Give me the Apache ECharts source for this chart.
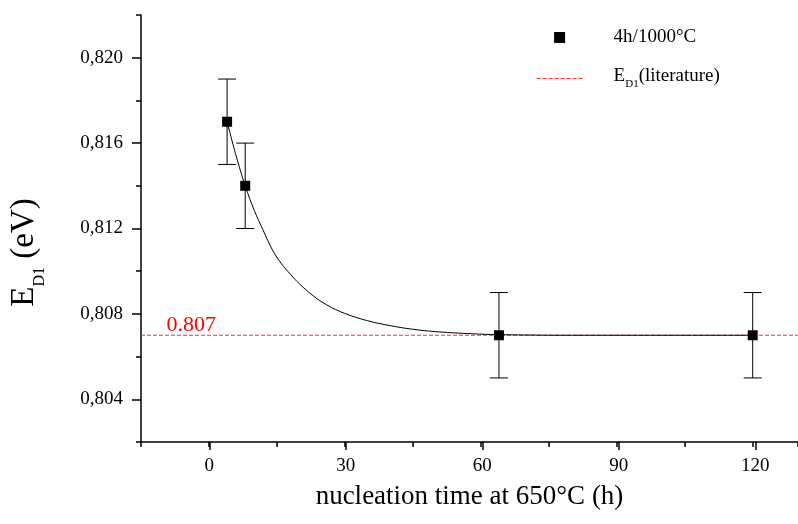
<!DOCTYPE html>
<html><head><meta charset="utf-8">
<script src="https://cdn.jsdelivr.net/npm/echarts@6/dist/echarts.min.js"></script>
<style>html,body{margin:0;padding:0;background:#fff}#c{width:798px;height:524px}</style>
</head><body><div id="c"></div>
<script>
// ---- data ----
const sampleX = [4, 8, 64, 120];
const sampleY = [0.817, 0.814, 0.807, 0.807];
const sampleErr = [0.002, 0.002, 0.002, 0.002];
const fitX = [4, 6, 8, 10, 12, 14, 16, 18, 20, 23, 26, 30, 35, 40, 45, 50, 57, 64, 80, 100, 120];
const fitY = [0.8170, 0.8154, 0.8140, 0.81285, 0.8119, 0.8110, 0.81035, 0.80985, 0.8094, 0.80885, 0.80842, 0.80802, 0.80768, 0.80745, 0.80728, 0.80717, 0.80708, 0.80703, 0.8070, 0.8070, 0.8070];
const literatureValue = 0.807;
const literatureLabel = '0.807';
const xTickValues = [0, 30, 60, 90, 120];
const xTickLabels = ['0', '30', '60', '90', '120'];
const yTickValues = [0.804, 0.808, 0.812, 0.816, 0.820];
const yTickLabels = ['0,804', '0,808', '0,812', '0,816', '0,820'];
const xRange = [-15, 130];
const yRange = [0.802, 0.822];
const seriesName = '4h/1000°C';
const litName = 'ED1(literature)';

// ---- layout ----
const FONT = "'Liberation Serif','Times New Roman',serif";
const G = { left: 141, top: 15, width: 659.75, height: 427 };
const px = v => (v - xRange[0]) / (xRange[1] - xRange[0]) * G.width;
const py = v => (yRange[1] - v) / (yRange[1] - yRange[0]) * G.height;
const xMajMin = xTickValues[0], xMajMax = xTickValues[xTickValues.length - 1];
const yMajMin = yTickValues[0], yMajMax = yTickValues[yTickValues.length - 1];
const lblX = v => { const i = xTickValues.findIndex(t => Math.abs(t - v) < 1e-9); return i < 0 ? '' : xTickLabels[i]; };
const lblY = v => { const i = yTickValues.findIndex(t => Math.abs(t - v) < 1e-9); return i < 0 ? '' : yTickLabels[i]; };

const chart = echarts.init(document.getElementById('c'), null, { renderer: 'canvas' });
const blk = '#000';
const RED = '#ff3030';
const litData = [[xRange[0], literatureValue], [xRange[1], literatureValue]];
chart.setOption({
  animation: false,
  backgroundColor: '#fff',
  grid: [
    { left: G.left, top: G.top, width: G.width, height: G.height },
    { left: G.left + px(xMajMin), top: G.top, width: px(xMajMax) - px(xMajMin), height: G.height },
    { left: G.left, top: G.top + py(yMajMax), width: G.width, height: py(yMajMin) - py(yMajMax) }
  ],
  xAxis: [
    { gridIndex: 0, type: 'value', min: xRange[0], max: xRange[1], interval: 15,
      axisLine: { onZero: false, lineStyle: { color: blk, width: 1.5 } },
      axisTick: { length: 5, lineStyle: { color: blk, width: 1.5 } },
      axisLabel: { show: false }, splitLine: { show: false },
      name: 'nucleation time at 650°C (h)', nameLocation: 'middle', nameGap: 41,
      nameTextStyle: { fontFamily: FONT, fontSize: 27, color: blk } },
    { gridIndex: 1, type: 'value', min: xMajMin, max: xMajMax, interval: 30,
      axisLine: { show: false, onZero: false },
      axisTick: { length: 8, lineStyle: { color: blk, width: 1.5 } },
      axisLabel: { margin: 15, fontFamily: FONT, fontSize: 19, color: blk, formatter: lblX },
      splitLine: { show: false } },
    { gridIndex: 2, type: 'value', show: false, min: xRange[0], max: xRange[1], axisLine: { onZero: false } }
  ],
  yAxis: [
    { gridIndex: 0, type: 'value', min: yRange[0], max: yRange[1], interval: 0.002,
      axisLine: { show: true, onZero: false, lineStyle: { color: blk, width: 1.5 } },
      axisTick: { show: true, length: 5, lineStyle: { color: blk, width: 1.5 } },
      axisLabel: { show: false }, splitLine: { show: false },
      name: '{e|E}{s|D1}{e| (eV)}', nameLocation: 'middle', nameGap: 93,
      nameTextStyle: { fontFamily: FONT, fontSize: 33, color: blk, padding: [0, 48, 0, 0],
        rich: { e: { fontFamily: FONT, fontSize: 33, color: blk, verticalAlign: 'bottom', padding: [0, 0, 7, 0] },
                s: { fontFamily: FONT, fontSize: 16, color: blk, verticalAlign: 'bottom' } } } },
    { gridIndex: 1, type: 'value', show: false, min: yRange[0], max: yRange[1], axisLine: { onZero: false } },
    { gridIndex: 2, type: 'value', min: yMajMin, max: yMajMax, interval: 0.004,
      axisLine: { show: false, onZero: false },
      axisTick: { show: true, length: 9, lineStyle: { color: blk, width: 1.5 } },
      axisLabel: { margin: 18, fontFamily: FONT, fontSize: 19, color: blk, formatter: lblY },
      splitLine: { show: false } }
  ],
  legend: {
    orient: 'vertical', left: 536, top: 28, padding: 0, itemWidth: 46, itemHeight: 11, itemGap: 20,
    selectedMode: false,
    data: [
      { name: seriesName, icon: 'path://M0,0L10,0L10,10L0,10Z' },
      { name: litName, itemStyle: { color: 'rgba(0,0,0,0)', borderWidth: 0, opacity: 0 },
        lineStyle: { color: RED, width: 1.2, type: [4, 2], opacity: 1 } }
    ],
    formatter: n => n === litName ? '{e|E}{s|D1}{e|(literature)}' : n,
    textStyle: { fontFamily: FONT, fontSize: 19, color: blk, padding: [0, 0, 0, 26],
      rich: { e: { fontFamily: FONT, fontSize: 19, color: blk, verticalAlign: 'bottom', padding: [0, 0, 4, 0] },
              s: { fontFamily: FONT, fontSize: 11, color: blk, verticalAlign: 'bottom' } } }
  },
  series: [
    { name: litName, type: 'line', xAxisIndex: 0, yAxisIndex: 0, data: litData,
      color: RED, symbol: 'none', silent: true, z: 2,
      lineStyle: { color: RED, width: 1.2, type: [4, 2] },
      markPoint: { silent: true, symbol: 'circle', symbolSize: 1, animation: false,
        itemStyle: { color: 'rgba(0,0,0,0)' },
        data: [{ coord: litData[0], value: literatureValue }],
        label: { show: true, formatter: literatureLabel, position: 'right', offset: [20, -10],
          fontFamily: FONT, fontSize: 22, color: '#ff0000' } } },
    { name: 'fit', type: 'line', xAxisIndex: 0, yAxisIndex: 0, symbol: 'none', smooth: 0.4,
      data: fitX.map((x, i) => [x, fitY[i]]), lineStyle: { color: blk, width: 1 }, z: 3, silent: true },
    { name: 'err', type: 'custom', xAxisIndex: 0, yAxisIndex: 0, silent: true, z: 4,
      data: sampleX.map((x, i) => [x, sampleY[i] - sampleErr[i], sampleY[i] + sampleErr[i]]),
      renderItem: (params, api) => {
        const lo = api.coord([api.value(0), api.value(1)]);
        const hi = api.coord([api.value(0), api.value(2)]);
        const w = 9;
        const st = { stroke: blk, lineWidth: 1 };
        return { type: 'group', children: [
          { type: 'line', shape: { x1: lo[0], y1: lo[1], x2: hi[0], y2: hi[1] }, style: st },
          { type: 'line', shape: { x1: lo[0] - w, y1: lo[1], x2: lo[0] + w, y2: lo[1] }, style: st },
          { type: 'line', shape: { x1: hi[0] - w, y1: hi[1], x2: hi[0] + w, y2: hi[1] }, style: st }
        ] };
      } },
    { name: seriesName, type: 'scatter', xAxisIndex: 0, yAxisIndex: 0, symbol: 'rect', symbolSize: 10,
      itemStyle: { color: blk, opacity: 1 }, z: 5, data: sampleX.map((x, i) => [x, sampleY[i]]) }
  ]
});
</script></body></html>
